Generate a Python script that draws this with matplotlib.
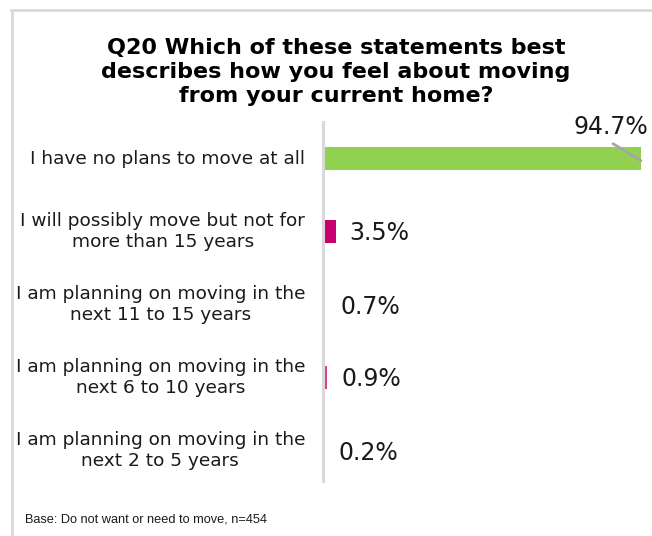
import matplotlib
matplotlib.use("Agg")
import matplotlib.pyplot as plt
from matplotlib.lines import Line2D

plt.rcParams['font.family'] = ['DejaVu Sans']

categories = [
    "I have no plans to move at all",
    "I will possibly move but not for\nmore than 15 years",
    "I am planning on moving in the\nnext 11 to 15 years",
    "I am planning on moving in the\nnext 6 to 10 years",
    "I am planning on moving in the\nnext 2 to 5 years",
]
values = [94.7, 3.5, 0.7, 0.9, 0.2]
value_labels = ["94.7%", "3.5%", "0.7%", "0.9%", "0.2%"]
bar_colors = ["#92D050", "#C8006E", "#FFFFFF", "#E0408A", "#FFFFFF"]

title = "Q20 Which of these statements best\ndescribes how you feel about moving\nfrom your current home?"
footnote = "Base: Do not want or need to move, n=454"

W, H = 652, 536
fig = plt.figure(figsize=(W / 100, H / 100), dpi=100)
fig.patch.set_facecolor("white")


def fx(px):
    return px / W


def fy(py):
    return 1 - py / H


# plot area: left edge at the category axis, 5 rows of 73 px
ax_left, ax_right = 324, 641
ax_top, ax_bottom = 122, 487
ax = fig.add_axes([fx(ax_left), fy(ax_bottom), fx(ax_right) - fx(ax_left),
                   (ax_bottom - ax_top) / H])
ax.set_xlim(0, values[0])
ax.set_ylim(len(categories) - 0.5, -0.5)
ax.axis("off")

ypos = list(range(len(categories)))
ax.barh(ypos, values, height=0.315, color=bar_colors, zorder=2)

# category axis line
fig.add_artist(Line2D([fx(323), fx(323)], [fy(122), fy(481)],
                      color="#D9D9D9", lw=2.2))

# category labels
for y, cat in zip(ypos, categories):
    ax.annotate(cat, xy=(0, y), xytext=(-19, 0), textcoords="offset pixels",
                ha="right", va="center", multialignment="center",
                fontsize=13.3, color="#1A1A1A", linespacing=1.27,
                annotation_clip=False)

# value labels
for y, v, lab in zip(ypos[1:], values[1:], value_labels[1:]):
    ax.annotate(lab, xy=(v, y), xytext=(14, -2), textcoords="offset pixels",
                ha="left", va="center", fontsize=17, color="#1A1A1A",
                annotation_clip=False)

# top value label with leader line
ax.annotate(value_labels[0], xy=(values[0], 0), xytext=(-30, 31),
            textcoords="offset pixels", ha="center", va="center",
            fontsize=17, color="#1A1A1A", annotation_clip=False)
ax.annotate("", xy=(values[0], 0.03), xytext=(-28, 17),
            textcoords="offset pixels",
            arrowprops=dict(arrowstyle="-", color="#A6A6A6", lw=2,
                            shrinkA=0, shrinkB=0),
            annotation_clip=False)

# title
fig.text(fx(336), fy(72), title, ha="center", va="center", fontsize=16,
         fontweight="bold", color="#000000", linespacing=1.25)

# footnote
fig.text(fx(25), fy(519), footnote, ha="left", va="center", fontsize=9.2,
         color="#1A1A1A", family="Liberation Sans")

# frame lines (top and left)
fig.add_artist(Line2D([fx(11), fx(652)], [fy(10), fy(10)], color="#D9D9D9", lw=2))
fig.add_artist(Line2D([fx(11.5), fx(11.5)], [fy(10), fy(536)], color="#D9D9D9", lw=2))

fig.savefig("out.png", dpi=100, facecolor="white")
